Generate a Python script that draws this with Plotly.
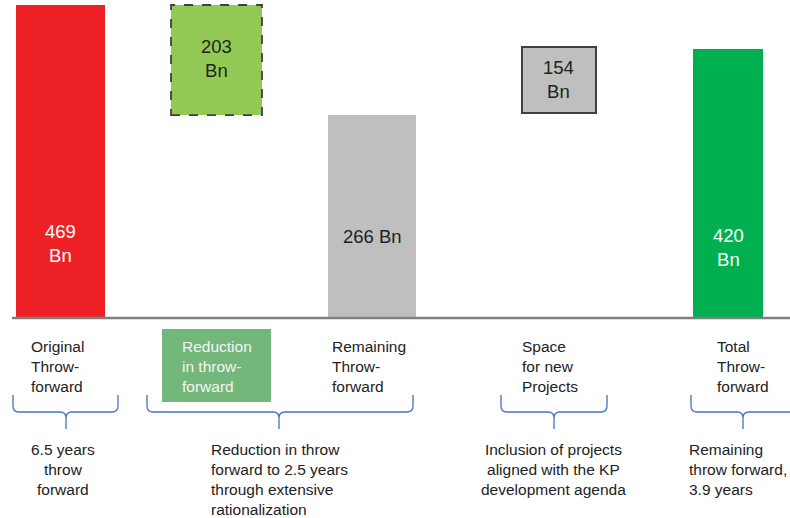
import plotly.graph_objects as go

# ---- data ----
categories = ["Original Throw-forward", "Reduction in throw-forward",
              "Remaining Throw-forward", "Space for new Projects",
              "Total Throw-forward"]
values_bn = [469, 203, 266, 154, 420]          # printed values (Bn)
drawn_base = [0, 304, 0, 307, 0]               # schematic bar base
drawn_top = [469, 469, 304, 406, 403]          # schematic bar top
cat_labels = ["Original<br>Throw-<br>forward", "Reduction<br>in throw-<br>forward",
              "Remaining<br>Throw-<br>forward", "Space<br>for new<br>Projects",
              "Total<br>Throw-<br>forward"]
notes = ["6.5 years<br>throw<br>forward",
         "Reduction in throw<br>forward to 2.5 years<br>through extensive<br>rationalization",
         "Inclusion of projects<br>aligned with the KP<br>development agenda",
         "Remaining<br>throw forward,<br>3.9 years"]

# ---- layout / style ----
W, H = 790, 518
x_pos = [60.5, 216.5, 372, 558.5, 728]
bar_w = [89, 91, 88, 74, 70]
fills = ["#EE2226", "#92C955", "#BFBFBF", "#BFBFBF", "#00B050"]
FONT = "Liberation Sans, Arial, sans-serif"
DARK = "#222222"


def py(p):
    return 1 - p / H


fig = go.Figure()
for i in range(len(categories)):
    line = dict(width=0)
    if i == 3:
        line = dict(color="#404040", width=2)
    fig.add_trace(go.Bar(
        x=[x_pos[i]], y=[drawn_top[i] - drawn_base[i]], base=[drawn_base[i]],
        width=[bar_w[i]], marker=dict(color=fills[i], line=line),
        name=categories[i], showlegend=False, hoverinfo="skip"))

shapes = []
# dashed border for the reduction box
shapes.append(dict(type="rect", xref="x", yref="y",
                   x0=x_pos[1] - bar_w[1] / 2, x1=x_pos[1] + bar_w[1] / 2,
                   y0=drawn_base[1], y1=drawn_top[1],
                   line=dict(color="#404040", width=1.8, dash="dash"),
                   fillcolor="rgba(0,0,0,0)"))
# baseline
shapes.append(dict(type="line", xref="x", yref="y", x0=12, x1=790, y0=0, y1=0,
                   line=dict(color="#7F7F7F", width=2.5)))
# green label box
shapes.append(dict(type="rect", xref="x", yref="paper", x0=162, x1=271,
                   y0=py(402), y1=py(329), fillcolor="#74B77B", line=dict(width=0),
                   layer="below"))

# braces
braces = [(13, 66, 118), (147, 279, 413), (501, 554, 607), (691, 743, 805)]
yt, yh, yb = 395, 412, 429
for x0, xm, x1 in braces:
    r = 6
    path = (f"M {x0},{py(yt)} L {x0},{py(yh - r)} Q {x0},{py(yh)} {x0 + r},{py(yh)} "
            f"L {xm - r},{py(yh)} Q {xm},{py(yh)} {xm},{py(yh + r)} L {xm},{py(yb)} "
            f"M {xm},{py(yh + r)} Q {xm},{py(yh)} {xm + r},{py(yh)} "
            f"L {x1 - r},{py(yh)} Q {x1},{py(yh)} {x1},{py(yh - r)} L {x1},{py(yt)}")
    shapes.append(dict(type="path", xref="x", yref="paper", path=path,
                       line=dict(color="#4472C4", width=1.3)))

ann = []
# value labels
val_text = [f"{values_bn[0]}<br>Bn", f"{values_bn[1]}<br>Bn", f"{values_bn[2]} Bn",
            f"{values_bn[3]}<br>Bn", f"{values_bn[4]}<br>Bn"]
val_y = [243, 58, 236, 79, 247]
val_col = ["white", DARK, DARK, DARK, "white"]
for i in range(5):
    ann.append(dict(x=x_pos[i], y=py(val_y[i]), xref="x", yref="paper",
                    text=val_text[i], showarrow=False, align="center",
                    xanchor="center", yanchor="middle",
                    font=dict(family=FONT, size=18.5, color=val_col[i])))

# category labels
cat_x = [29, 180, 330, 520, 715]
cat_col = [DARK, "#F4F4F4", DARK, DARK, DARK]
for i in range(5):
    ann.append(dict(x=cat_x[i], y=py(366.5), xref="x", yref="paper",
                    text=cat_labels[i], showarrow=False, align="left",
                    xanchor="left", yanchor="middle",
                    font=dict(family=FONT, size=15.5, color=cat_col[i])))

# notes
note_x = [63, 209, 553, 687]
note_anchor = ["center", "left", "center", "left"]
note_y = [469.5, 479, 469.5, 469.5]
for i in range(4):
    ann.append(dict(x=note_x[i], y=py(note_y[i]), xref="x", yref="paper",
                    text=notes[i], showarrow=False, align=note_anchor[i],
                    xanchor=note_anchor[i], yanchor="middle",
                    font=dict(family=FONT, size=15.5, color=DARK)))

ymax = 469 + 5 / (313 / 469)
ymin = -200 / (313 / 469)
fig.update_layout(
    width=W, height=H, margin=dict(l=0, r=0, t=0, b=0),
    paper_bgcolor="white", plot_bgcolor="white",
    xaxis=dict(range=[0, W], visible=False, fixedrange=True),
    yaxis=dict(range=[ymin, ymax], visible=False, fixedrange=True),
    shapes=shapes, annotations=ann, bargap=0, barmode="overlay",
)
fig.write_html("out.html", config={"displayModeBar": False},
               post_script="document.body.style.margin='0';document.body.style.overflow='hidden';")
